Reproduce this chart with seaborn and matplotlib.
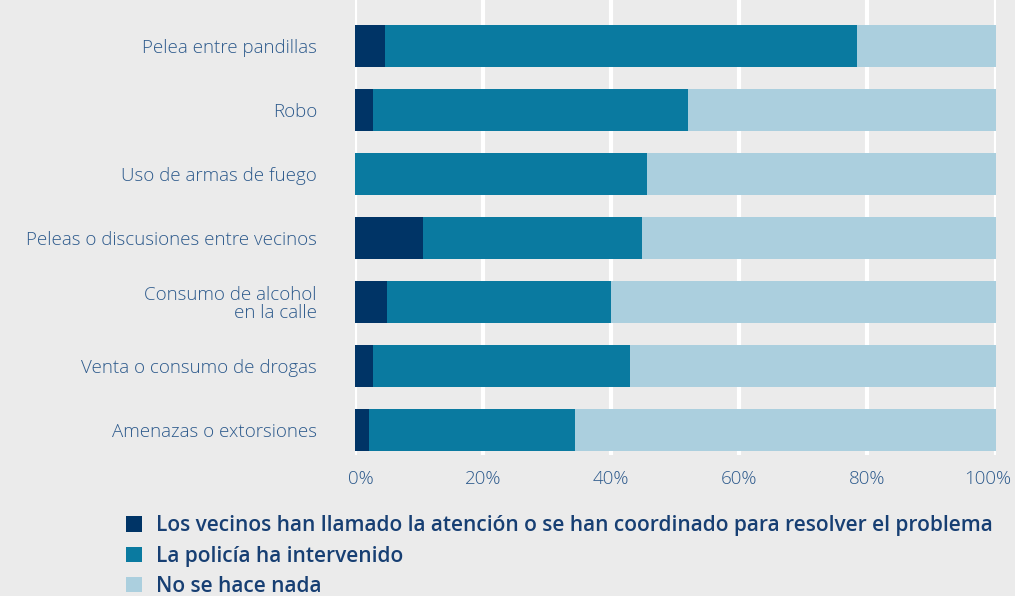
import pandas as pd
import matplotlib
matplotlib.use('Agg')
import matplotlib.pyplot as plt
import matplotlib.transforms as mtransforms
from matplotlib.patches import Patch
import seaborn as sns

categorias = ['Pelea entre pandillas', 'Robo', 'Uso de armas de fuego',
              'Peleas o discusiones entre vecinos', 'Consumo de alcohol\nen la calle',
              'Venta o consumo de drogas', 'Amenazas o extorsiones']
vecinos = [4.7, 2.9, 0.0, 10.7, 5.1, 2.9, 2.2]
policia = [73.7, 49.2, 45.6, 34.1, 34.9, 40.1, 32.2]
nada = [100 - v - p for v, p in zip(vecinos, policia)]
series = ['Los vecinos han llamado la atención o se han coordinado para resolver el problema',
          'La policía ha intervenido',
          'No se hace nada']
ticks = [0, 20, 40, 60, 80, 100]
tick_labels = ['0%', '20%', '40%', '60%', '80%', '100%']

colores = ['#003466', '#0a7aa0', '#abcfde']
bg = '#ebebeb'
txt = '#2d5a8c'

df = pd.DataFrame({'cat': categorias, 'vecinos': vecinos, 'policia': policia, 'nada': nada})
df['c1'] = df['vecinos']
df['c2'] = df['vecinos'] + df['policia']
df['c3'] = df['c2'] + df['nada']

sns.set_theme(style='white')
plt.rcParams['font.family'] = ['Open Sans', 'DejaVu Sans']

fig = plt.figure(figsize=(10.15, 5.96), dpi=100, facecolor=bg)
ax = fig.add_axes([354.5 / 1015, 1 - 455 / 596, 641 / 1015, 455 / 596])
ax.set_facecolor(bg)

for col, c in zip(['c3', 'c2', 'c1'], colores[::-1]):
    sns.barplot(data=df, x=col, y='cat', orient='h', color=c, width=0.66,
                linewidth=0, saturation=1, ax=ax)

ax.set_xlim(0, 100)
ax.set_ylim(6.39, -0.72)
ax.set_xticks(ticks)
ax.set_xticklabels(tick_labels)
ax.grid(axis='x', color='white', linewidth=3)
ax.set_axisbelow(True)
for s in ax.spines.values():
    s.set_visible(False)
ax.set_xlabel('')
ax.set_ylabel('')
ax.tick_params(axis='both', length=0, labelsize=13.5, labelcolor=txt)
ax.tick_params(axis='y', pad=27)
ax.tick_params(axis='x', pad=11)
for lab in ax.get_yticklabels():
    lab.set_multialignment('right')
    lab.set_linespacing(1.0)
    lab.set_fontweight('light')
xl = ax.get_xticklabels()
for lab in xl:
    lab.set_fontweight('light')
xl[0].set_transform(xl[0].get_transform() + mtransforms.ScaledTranslation(6 / 100, 0, fig.dpi_scale_trans))
xl[-1].set_transform(xl[-1].get_transform() + mtransforms.ScaledTranslation(-8 / 100, 0, fig.dpi_scale_trans))

handles = [Patch(facecolor=c, edgecolor='none') for c in colores]
leg = fig.legend(handles, series, loc='upper left', bbox_to_anchor=(118 / 1015, 1 - 507 / 596),
                 frameon=False, fontsize=15, handlelength=0.75, handleheight=0.75,
                 handletextpad=0.65, labelspacing=0.45, borderaxespad=0)
for t in leg.get_texts():
    t.set_color('#173f73')
    t.set_fontweight('semibold')

fig.savefig('out.png', dpi=100, facecolor=bg)
